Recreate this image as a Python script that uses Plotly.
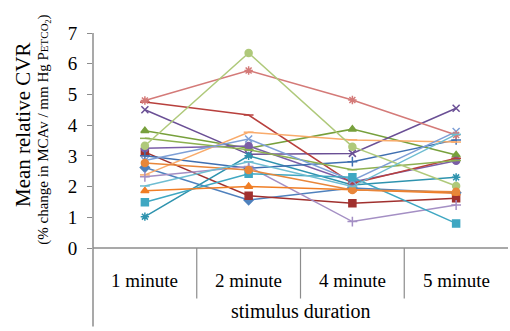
import plotly.graph_objects as go

categories = ["1 minute", "2 minute", "4 minute", "5 minute"]
y_ticks = [0, 1, 2, 3, 4, 5, 6, 7]

s01 = [2.62, 1.56, 1.95, 1.80]
s02 = [3.12, 1.70, 1.46, 1.62]
s03 = [3.82, 3.25, 3.87, 3.03]
s04 = [4.50, 3.05, 3.08, 4.55]
s05 = [1.02, 3.00, 2.05, 2.30]
s06 = [3.25, 3.32, 2.15, 2.84]
s07 = [3.00, 2.60, 2.81, 3.52]
s08 = [4.75, 4.33, 2.10, 2.92]
s09 = [3.57, 3.20, 2.55, 2.85]
s10 = [2.38, 3.77, 3.52, 3.45]
s11 = [2.85, 3.55, 2.20, 3.79]
s12 = [4.80, 5.78, 4.82, 3.68]
s13 = [3.33, 6.35, 3.30, 2.02]
s14 = [2.32, 2.65, 0.86, 1.40]
s15 = [1.49, 2.42, 2.30, 0.80]
s16 = [1.86, 2.00, 1.90, 1.78]
s17 = [2.77, 2.54, 1.89, 1.83]
s18 = [2.02, 2.81, 2.00, 3.70]

series = [
    (s01, "#4F81BD", "diamond"),
    (s02, "#A0302E", "square"),
    (s03, "#77A03C", "triangle-up"),
    (s04, "#6A4F95", "x-thin-open"),
    (s05, "#2E93AE", "asterisk-open"),
    (s06, "#7B5EA7", "circle"),
    (s07, "#3F6FB0", "cross-thin-open"),
    (s08, "#B8403D", "line-ew-open"),
    (s09, "#8DB050", "line-ew-open"),
    (s10, "#F9AB6B", "line-ew-open"),
    (s11, "#7E9FD6", "x-thin-open"),
    (s12, "#D47A78", "asterisk-open"),
    (s13, "#AFC97A", "circle"),
    (s14, "#A48FC4", "cross-thin-open"),
    (s15, "#3FA7C2", "square"),
    (s16, "#F07E26", "triangle-up"),
    (s17, "#E8863A", "circle"),
    (s18, "#6FBDD1", "line-ew-open"),
]

fig = go.Figure()
for vals, col, sym in series:
    fig.add_trace(go.Scatter(
        x=categories, y=vals, mode="lines+markers",
        line=dict(color=col, width=1.5),
        marker=dict(color=col, symbol=sym, size=7,
                    line=dict(color=col, width=1.5)),
        showlegend=False,
    ))

axis_col = "#8C8C8C"
font_fam = "Liberation Serif"

fig.update_layout(
    width=510, height=331,
    margin=dict(l=93, r=2, t=33, b=83),
    paper_bgcolor="white", plot_bgcolor="white",
    font=dict(family=font_fam, color="black"),
    xaxis=dict(type="category", range=[-0.5, 3.5], showticklabels=False,
               showgrid=False, zeroline=False, showline=False, ticks=""),
    yaxis=dict(range=[0, 7], tickvals=y_ticks, showgrid=False, zeroline=False,
               showline=False, ticks="outside", ticklen=5, tickcolor=axis_col,
               tickwidth=1.2, tickfont=dict(size=19, family=font_fam, color="black"),
               ticklabelstandoff=6),
)

shapes = []
shapes.append(dict(type="line", xref="paper", yref="paper", x0=0, x1=0,
                   y0=1, y1=-0.365, line=dict(color=axis_col, width=1.5)))
shapes.append(dict(type="line", xref="paper", yref="paper", x0=0, x1=1,
                   y0=0, y1=0, line=dict(color=axis_col, width=1.5)))
for i in range(1, 4):
    shapes.append(dict(type="line", xref="paper", yref="paper", x0=i / 4, x1=i / 4,
                       y0=0, y1=-0.235, line=dict(color=axis_col, width=1.2)))
fig.update_layout(shapes=shapes)

for i, c in enumerate(categories):
    fig.add_annotation(text=c, x=(i + 0.5) / 4, y=-0.153, xref="paper", yref="paper",
                       xanchor="center", yanchor="middle", showarrow=False,
                       font=dict(size=19, family=font_fam, color="black"))
fig.add_annotation(text="stimulus duration", x=0.5, y=-0.293, xref="paper", yref="paper",
                   xanchor="center", yanchor="middle", showarrow=False,
                   font=dict(size=20, family=font_fam, color="black"))
fig.add_annotation(text="Mean relative CVR", x=-70 / 415, y=0.572, xref="paper", yref="paper",
                   xanchor="center", yanchor="middle", showarrow=False, textangle=-90,
                   font=dict(size=21, family=font_fam, color="black"))
fig.add_annotation(text="(% change in MCAv / mm Hg P<span style='font-size:11px'>ETCO<sub>2</sub></span>)",
                   x=-49 / 415, y=0.55, xref="paper", yref="paper", showarrow=False,
                   textangle=-90, xanchor="center", yanchor="middle",
                   font=dict(size=15, family=font_fam, color="black"))

fig.write_html("out.html", config={"displayModeBar": False},
               post_script="document.body.style.margin='0';")
